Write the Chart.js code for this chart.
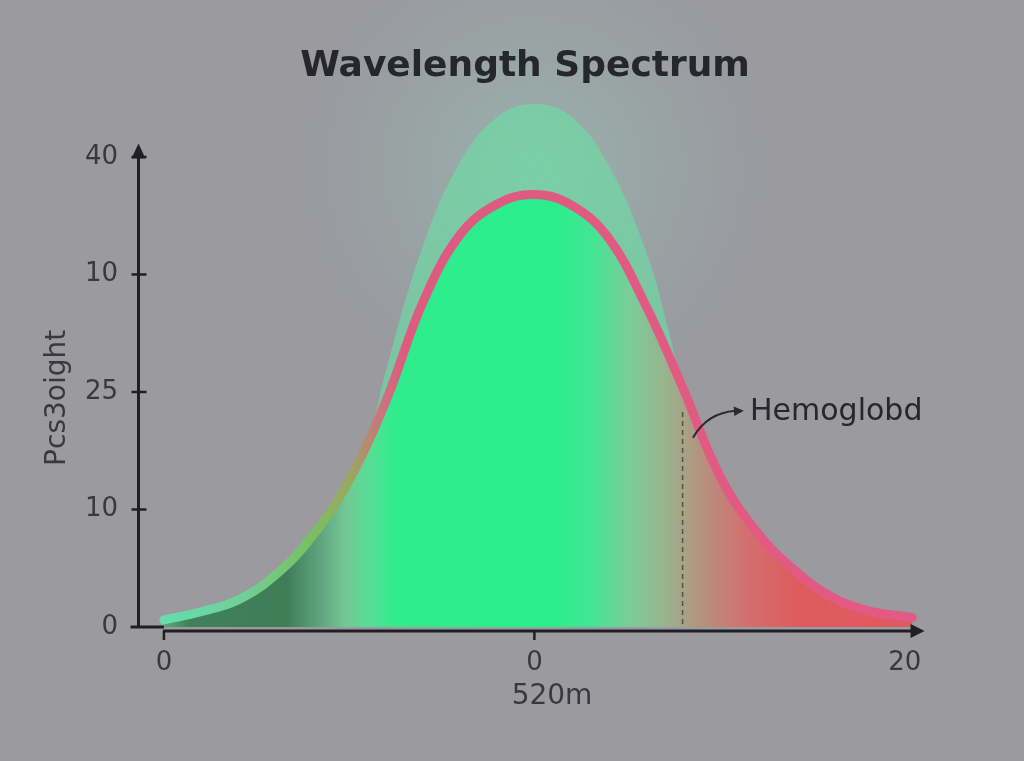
<!DOCTYPE html>
<html><head><meta charset="utf-8">
<script src="https://cdn.jsdelivr.net/npm/chart.js@4"></script>
<style>html,body{margin:0;padding:0;background:#9a9a9f;overflow:hidden}#wrap{width:1024px;height:761px;position:relative}</style>
</head><body><div id="wrap"><canvas id="c"></canvas></div>
<script>
// ---- data ----
const chartTitle = 'Wavelength Spectrum';
const xAxisTitle = '520m';
const yAxisTitle = 'Pcs3oight';
const annotationLabel = 'Hemoglobd';
const xTickValues = [0, 10, 20];
const xTickLabels = ['0', '0', '20'];
const yTickValues = [0, 1, 2, 3, 4];
const yTickLabels = ['0', '10', '25', '10', '40'];
const curveX = [0, 1, 2, 3, 4, 5, 6, 7, 8, 9, 10, 11, 12, 13, 14, 15, 16, 17, 18, 19, 20, 20.2];
const curveY = [0.06, 0.13, 0.23, 0.44, 0.77, 1.25, 1.93, 2.77, 3.34, 3.60, 3.68, 3.59, 3.31, 2.74, 2.04, 1.29, 0.81, 0.49, 0.26, 0.14, 0.09, 0.08];
const glowX = [5.6, 6, 7, 8, 9, 10, 11, 12, 13, 13.6, 14];
const glowY = [1.65, 2.19, 3.25, 3.96, 4.34, 4.45, 4.34, 3.93, 3.21, 2.55, 2.0];
const markerX = 14;
const markerTop = 1.83;

const FONT = 'DejaVu Sans';
const INK = '#26272c';

function hGrad(chart, stops) {
  const {chartArea, scales} = chart;
  if (!chartArea) return null;
  const x0 = scales.x.getPixelForValue(0), x1 = scales.x.getPixelForValue(20.5);
  const g = chart.ctx.createLinearGradient(x0, 0, x1, 0);
  stops.forEach(([v, c]) => g.addColorStop(Math.min(1, Math.max(0, v / 20.5)), c));
  return g;
}
const fillStops = [[0,'#5aa87a'],[0.7,'#40805a'],[3.3,'#3f7d57'],[4.3,'#62a882'],[4.9,'#74c893'],[5.6,'#55df96'],[6.2,'#2fec8c'],[10.5,'#2aee8c'],[11.6,'#45e494'],[12.6,'#7ccc98'],[13.7,'#9eae8c'],[14.5,'#b4927e'],[15.7,'#d27070'],[17,'#de5c5c'],[20.5,'#e05a62']];
const lineStops = [[0,'#66dcb0'],[2,'#6fd09a'],[4,'#78c060'],[5,'#9aa860'],[5.8,'#c8787a'],[6.5,'#de5a80'],[20.5,'#e35a84']];

const decor = {
  id: 'decor',
  beforeDraw(chart) {
    const ctx = chart.ctx;
    const {x, y} = chart.scales;
    const cx = x.getPixelForValue(10), cy = y.getPixelForValue(3.9);
    ctx.save();
    const g = ctx.createRadialGradient(cx, cy, 0, cx, cy, 240);
    g.addColorStop(0, 'rgba(150,215,190,0.42)');
    g.addColorStop(0.55, 'rgba(150,210,190,0.16)');
    g.addColorStop(1, 'rgba(150,200,190,0)');
    ctx.fillStyle = g;
    ctx.fillRect(0, 0, chart.width, chart.height);
    ctx.restore();
  },
  afterDatasetsDraw(chart) {
    const ctx = chart.ctx;
    const {x, y} = chart.scales;
    const ax = chart.chartArea.left + 0.5;
    const y0 = y.getPixelForValue(0);
    const yTop = y.getPixelForValue(4.08);
    ctx.save();
    ctx.strokeStyle = '#1f2025'; ctx.fillStyle = '#1f2025';
    ctx.lineWidth = 3;
    // y axis
    ctx.beginPath(); ctx.moveTo(ax, y0 + 1); ctx.lineTo(ax, yTop + 8); ctx.stroke();
    ctx.beginPath(); ctx.moveTo(ax, yTop - 4); ctx.lineTo(ax - 7, yTop + 11); ctx.lineTo(ax + 7, yTop + 11); ctx.closePath(); ctx.fill();
    // y ticks
    ctx.lineWidth = 2.5;
    yTickValues.slice(1).forEach(v => { const p = y.getPixelForValue(v); ctx.beginPath(); ctx.moveTo(ax - 7, p); ctx.lineTo(ax + 8, p); ctx.stroke(); });
    ctx.lineWidth = 3;
    ctx.beginPath(); ctx.moveTo(ax - 8, y0); ctx.lineTo(x.getPixelForValue(0), y0); ctx.stroke();
    // x axis
    const xy = y0 + 4;
    const xEnd = x.getPixelForValue(20.45);
    ctx.beginPath(); ctx.moveTo(x.getPixelForValue(0) - 1, xy); ctx.lineTo(xEnd - 8, xy); ctx.stroke();
    ctx.beginPath(); ctx.moveTo(xEnd + 3, xy); ctx.lineTo(xEnd - 11, xy - 7); ctx.lineTo(xEnd - 11, xy + 7); ctx.closePath(); ctx.fill();
    ctx.lineWidth = 2.5;
    [0, 10].forEach(v => { const p = x.getPixelForValue(v); ctx.beginPath(); ctx.moveTo(p, xy); ctx.lineTo(p, xy + 9); ctx.stroke(); });
    // dashed marker
    const mx = x.getPixelForValue(markerX);
    ctx.setLineDash([5, 4]); ctx.lineWidth = 1.5; ctx.strokeStyle = 'rgba(60,60,66,0.8)';
    ctx.beginPath(); ctx.moveTo(mx, y.getPixelForValue(markerTop)); ctx.lineTo(mx, y0); ctx.stroke();
    ctx.setLineDash([]);
    // annotation arrow
    const sx = x.getPixelForValue(14.28), sy = y.getPixelForValue(1.61);
    const ex = x.getPixelForValue(15.6), ey = y.getPixelForValue(1.84);
    const qx = sx + 14, qy = ey + 2;
    ctx.strokeStyle = '#2a2b30'; ctx.fillStyle = '#2a2b30'; ctx.lineWidth = 2;
    ctx.beginPath(); ctx.moveTo(sx, sy); ctx.quadraticCurveTo(qx, qy, ex - 6, ey); ctx.stroke();
    const ang = Math.atan2(ey - qy, ex - qx);
    ctx.beginPath(); ctx.moveTo(ex + 2, ey);
    ctx.lineTo(ex + 2 - 11 * Math.cos(ang - 0.45), ey - 11 * Math.sin(ang - 0.45));
    ctx.lineTo(ex + 2 - 11 * Math.cos(ang + 0.45), ey - 11 * Math.sin(ang + 0.45));
    ctx.closePath(); ctx.fill();
    // annotation label
    ctx.font = '30px "' + FONT + '"'; ctx.fillStyle = INK; ctx.textAlign = 'left'; ctx.textBaseline = 'middle';
    ctx.fillText(annotationLabel, x.getPixelForValue(15.82), y.getPixelForValue(1.83));
    // y axis title
    ctx.save();
    ctx.translate(58, y.getPixelForValue(1.95));
    ctx.rotate(-Math.PI / 2);
    ctx.font = '28px "' + FONT + '"'; ctx.fillStyle = '#38393e'; ctx.textAlign = 'center'; ctx.textBaseline = 'middle';
    ctx.fillText(yAxisTitle, 0, 0);
    ctx.restore();
    ctx.restore();
  }
};

new Chart(document.getElementById('c'), {
  type: 'line',
  data: {
    datasets: [
      {
        label: 'Spectrum',
        data: curveX.map((v, i) => ({x: v, y: curveY[i]})),
        borderColor: c => hGrad(c.chart, lineStops),
        backgroundColor: c => hGrad(c.chart, fillStops),
        borderWidth: 9,
        borderCapStyle: 'round',
        borderJoinStyle: 'round',
        fill: 'origin',
        tension: 0.4,
        pointRadius: 0
      },
      {
        label: 'Glow',
        data: glowX.map((v, i) => ({x: v, y: glowY[i]})),
        borderWidth: 0,
        borderColor: 'rgba(0,0,0,0)',
        backgroundColor: 'rgba(105,225,165,0.62)',
        fill: 'origin',
        tension: 0.4,
        pointRadius: 0
      }
    ]
  },
  options: {
    responsive: true,
    maintainAspectRatio: false,
    animation: false,
    devicePixelRatio: 1,
    layout: {padding: {left: 84, right: 58, top: 0, bottom: 0}},
    plugins: {
      legend: {display: false},
      tooltip: {enabled: false},
      title: {
        display: true, text: chartTitle, color: INK,
        font: {family: FONT, size: 36, weight: 'bold', lineHeight: 1.2},
        padding: {top: 45, bottom: 10}
      }
    },
    scales: {
      x: {
        type: 'linear', min: -0.7, max: 21.65,
        grid: {display: false, drawTicks: false},
        border: {display: false},
        afterFit: s => { s.height = 134; },
        afterBuildTicks: s => { s.ticks = xTickValues.map(v => ({value: v})); },
        ticks: {
          autoSkip: false, maxRotation: 0, padding: 21,
          color: '#38393e', font: {family: FONT, size: 26},
          callback: (v, i) => xTickLabels[i]
        },
        title: {display: true, text: xAxisTitle, color: '#38393e', font: {family: FONT, size: 28}, padding: {top: 0, bottom: 47}}
      },
      y: {
        type: 'linear', min: 0, max: 4.5,
        grid: {display: false, drawTicks: false},
        border: {display: false},
        afterFit: s => { s.width = 54; },
        afterBuildTicks: s => { s.ticks = yTickValues.map(v => ({value: v})); },
        ticks: {
          autoSkip: false, padding: 20,
          color: '#38393e', font: {family: FONT, size: 26},
          callback: (v, i) => yTickLabels[i]
        }
      }
    }
  },
  plugins: [decor]
});
</script></body></html>
